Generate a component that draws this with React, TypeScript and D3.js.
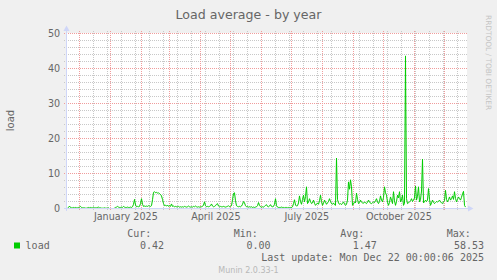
import React from "react";
import * as d3 from "d3";

// ---- data ----
const TITLE = "Load average - by year";
const Y_LABEL = "load";
const SERIES_NAME = "load";
const Y_TICKS = [0, 10, 20, 30, 40, 50];
const Y_MINOR_STEP = 2;
const X_LABEL_MONTHS = ["2025-01-01", "2025-04-01", "2025-07-01", "2025-10-01"];
const LEGEND_HEADERS = ["Cur:", "Min:", "Avg:", "Max:"];
const LEGEND_VALUES = ["0.42", "0.00", "1.47", "58.53"];
const LAST_UPDATE = "Last update: Mon Dec 22 00:00:06 2025";
const FOOTER = "Munin 2.0.33-1";
const WATERMARK = "RRDTOOL / TOBI OETIKER";
const RANGE_START = "2024-11-18T16:00:00Z";
const RANGE_DAYS = 400;
const MINOR_ANCHOR = "2024-12-15T00:00:00Z";

// daily load values (one per day from range start)
const LOAD = [
  0.1, 0.3, 0.7, 0.3, 0.2, 0.2, 0.3, 0.2, 0.3, 0.2, 0.2, 0.3, 0.4, 0.6, 0.3, 0.2, 0.2, 0.2, 0.1, 0.1,
  0.2, 0.3, 0.2, 0.3, 0.2, 0.2, 0.4, 0.2, 0.2, 0.2, 0.3, 0.4, 0.2, 0.2, 0.1, 0.1, 0.1, 0.2, 0.1, 0.1,
  0.1, 0.2, 0.0, 0.0, 0.0, 0.0, 0.0, 0.1, 0.3, 0.4, 0.6, 0.4, 0.3, 0.3, 0.4, 0.3, 0.6, 0.4, 0.3, 0.3,
  0.4, 0.3, 0.3, 0.4, 0.3, 0.5, 1.2, 2.6, 1.0, 0.5, 0.6, 0.5, 0.6, 1.4, 2.8, 1.2, 0.6, 0.7, 0.6, 0.7,
  0.6, 0.8, 0.7, 0.6, 0.8, 2.5, 4.6, 4.8, 4.5, 4.6, 4.4, 4.5, 4.2, 4.0, 3.6, 2.6, 1.4, 0.8, 0.9, 0.7,
  1.0, 0.6, 0.8, 0.6, 1.3, 0.6, 0.7, 0.5, 0.6, 0.5, 0.5, 0.6, 0.4, 0.5, 0.4, 0.5, 0.4, 0.6, 0.5, 0.4,
  0.5, 0.7, 0.5, 0.4, 0.5, 0.4, 0.6, 0.5, 0.7, 0.5, 0.4, 0.5, 0.4, 0.5, 0.5, 0.6, 1.0, 1.9, 0.8, 0.5,
  0.6, 0.5, 0.6, 0.8, 1.3, 0.7, 0.5, 0.6, 0.8, 1.2, 1.4, 0.7, 0.5, 0.6, 0.5, 0.5, 0.6, 0.5, 0.4, 0.5,
  0.6, 0.8, 0.5, 0.6, 0.8, 2.5, 4.3, 4.5, 2.2, 0.8, 0.6, 0.5, 0.6, 0.5, 0.7, 1.2, 2.0, 1.6, 0.8, 0.5,
  0.6, 0.4, 0.5, 0.4, 0.5, 0.3, 0.4, 0.3, 0.4, 0.5, 0.8, 1.7, 0.9, 0.5, 0.4, 0.5, 0.4, 0.6, 0.9, 1.1,
  0.6, 0.5, 0.7, 1.1, 0.6, 0.5, 0.6, 1.2, 2.8, 0.8, 0.4, 0.3, 0.3, 0.3, 0.4, 0.3, 0.3, 0.2, 0.3, 0.3,
  0.2, 0.3, 0.2, 0.3, 0.3, 0.5, 1.4, 2.5, 1.0, 0.7, 0.8, 1.6, 3.6, 2.0, 1.2, 2.6, 3.8, 1.9, 3.4, 6.2,
  1.4, 1.8, 2.8, 2.0, 1.4, 1.6, 2.4, 1.5, 0.9, 1.2, 1.6, 1.2, 2.2, 3.8, 2.0, 0.9, 1.5, 2.4, 1.8, 1.2,
  1.6, 2.0, 2.8, 2.0, 1.4, 1.2, 1.6, 1.1, 0.9, 14.4, 2.5, 1.6, 1.2, 1.4, 1.1, 1.5, 1.9, 1.3, 0.9, 1.2,
  2.4, 7.6, 5.5, 8.2, 6.2, 0.9, 1.3, 1.9, 1.6, 4.4, 2.6, 1.4, 1.7, 2.4, 1.8, 1.6, 1.5, 1.9, 1.6, 1.4,
  1.8, 2.4, 1.9, 1.5, 1.4, 1.6, 1.9, 1.7, 2.2, 2.8, 1.9, 1.4, 2.0, 3.6, 2.4, 1.9, 3.2, 6.2, 4.5, 3.8,
  1.8, 0.9, 1.8, 3.3, 2.4, 1.4, 4.8, 2.2, 0.9, 2.0, 3.8, 3.0, 4.8, 1.9, 2.4, 3.8, 0.9, 1.5, 43.6, 2.8,
  1.4, 1.6, 1.9, 2.2, 2.8, 2.0, 2.4, 3.0, 6.4, 2.4, 3.5, 6.2, 1.9, 2.5, 5.0, 14.1, 1.6, 1.9, 2.4, 2.0,
  2.4, 5.7, 2.6, 0.9, 1.6, 2.4, 1.8, 1.4, 1.7, 2.0, 1.8, 2.1, 2.4, 1.9, 1.6, 1.4, 1.9, 2.2, 5.2, 2.6,
  1.9, 2.5, 3.3, 2.4, 2.8, 3.6, 2.6, 4.8, 2.9, 1.9, 2.6, 3.3, 2.8, 2.4, 3.2, 4.2, 4.9, 0.9, 0.4,
];

// ---- layout ----
const W = 497;
const H = 280;
const PL = 67;
const PR = 467;
const PT = 33;
const PB = 208.5;
const AXIS = "#CFD6F8";
const FONT = "#666666";
const SANS = "'DejaVu Sans', sans-serif";
const MONO = "'DejaVu Sans Mono', monospace";

export default function App() {
  const DAY = 86400000;
  const start = new Date(RANGE_START).getTime();
  const end = start + RANGE_DAYS * DAY;
  const x = d3.scaleUtc().domain([start, end]).range([PL, PR]);
  const y = d3.scaleLinear().domain([0, 50]).range([208.5, 33.5]);

  const pts = LOAD.map((v, i) => [start + (i + 0.5) * DAY, v] as [number, number]);
  const line = d3
    .line<[number, number]>()
    .x((d) => x(d[0]))
    .y((d) => y(d[1]))(pts) as string;

  const crisp = (v: number) => Math.floor(v + 1e-6) + 0.5;
  const yc = (v: number) => Math.round(y(v) - 0.5) + 0.5;

  const majorX = d3.utcMonth.range(new Date(start), new Date(end)).map((d) => crisp(x(d)));
  const anchor = new Date(MINOR_ANCHOR).getTime();
  const minorX: number[] = [];
  for (let t = anchor - Math.floor((anchor - start) / (14 * DAY)) * 14 * DAY; t < end; t += 14 * DAY) {
    if (t > start) minorX.push(crisp(x(t)));
  }
  const yMinor = d3.range(0, 26).map((k) => k * Y_MINOR_STEP).filter((v) => v % 10 !== 0);

  const fmt = d3.utcFormat("%B %Y");
  const valueEnds = [164, 270.6, 376.8, 484];
  const headerStarts = [127.2, 233.8, 340.2, 446.8];

  return (
    <svg
      width={W}
      height={H}
      style={{ position: "absolute", left: 0, top: 0, display: "block" }}
      xmlns="http://www.w3.org/2000/svg"
    >
      <rect x={0} y={0} width={W} height={H} fill="#F0F0F0" />
      <rect x={PL} y={PT} width={PR - PL} height={PB - PT} fill="#FFFFFF" />

      {/* minor grid */}
      <g stroke="#c8c8c8" strokeWidth={1} strokeDasharray="1,1" fill="none" shapeRendering="crispEdges">
        {yMinor.map((v) => (
          <line key={"hm" + v} x1={64} x2={PR} y1={yc(v)} y2={yc(v)} />
        ))}
        {minorX.map((px, i) => (
          <line key={"vm" + i} x1={px} x2={px} y1={31} y2={211} />
        ))}
      </g>
      {/* major grid */}
      <g stroke="#f09c9c" strokeWidth={1} strokeDasharray="1,1" fill="none" shapeRendering="crispEdges">
        {Y_TICKS.filter((v) => v > 0).map((v) => (
          <line key={"hM" + v} x1={64} x2={PR} y1={yc(v)} y2={yc(v)} />
        ))}
        {majorX.map((px, i) => (
          <line key={"vM" + i} x1={px} x2={px} y1={31} y2={211} />
        ))}
      </g>

      {/* data */}
      <path d={line} fill="none" stroke="#00CC00" strokeWidth={1} />

      {/* axes */}
      <line x1={64} x2={469} y1={208.5} y2={208.5} stroke={AXIS} strokeWidth={1} />
      <line x1={66.5} x2={66.5} y1={211} y2={30} stroke={AXIS} strokeWidth={1} />
      <path d="M468,205.5 L473.5,208.5 L468,211.5 Z" fill={AXIS} />
      <path d="M63.5,31 L66.5,25.5 L69.5,31 Z" fill={AXIS} />

      {/* title */}
      <text x={248.5} y={18.5} textAnchor="middle" fontFamily={SANS} fontSize={12.6} fill={FONT}>
        {TITLE}
      </text>

      {/* y labels */}
      {Y_TICKS.map((v) => (
        <text key={"yl" + v} x={60.2} y={y(v) + 3.4} textAnchor="end" fontFamily={SANS} fontSize={9.6} fill={FONT}>
          {v}
        </text>
      ))}
      <text
        transform={`translate(14,120.5) rotate(-90)`}
        textAnchor="middle"
        fontFamily={SANS}
        fontSize={10}
        fill={FONT}
      >
        {Y_LABEL}
      </text>

      {/* x labels */}
      {X_LABEL_MONTHS.map((m) => {
        const t = new Date(m + "T00:00:00Z").getTime();
        return (
          <text key={m} x={x(t + 15.5 * DAY)} y={220} textAnchor="middle" fontFamily={SANS} fontSize={9.6} fill={FONT}>
            {fmt(new Date(t))}
          </text>
        );
      })}

      {/* watermark */}
      <text transform="translate(486,15) rotate(90)" fontFamily={SANS} fontSize={7.4} fill="#c4c4c4">
        {WATERMARK}
      </text>

      {/* legend */}
      {LEGEND_HEADERS.map((h, i) => (
        <text key={h} x={headerStarts[i]} y={236.7} fontFamily={MONO} fontSize={10} fill={FONT}>
          {h}
        </text>
      ))}
      <rect x={14} y={242.5} width={6} height={6} fill="#00CC00" />
      <text x={25.6} y={249} fontFamily={MONO} fontSize={10} fill={FONT}>
        {SERIES_NAME}
      </text>
      {LEGEND_VALUES.map((v, i) => (
        <text key={"lv" + i} x={valueEnds[i]} y={249} textAnchor="end" fontFamily={MONO} fontSize={10} fill={FONT}>
          {v}
        </text>
      ))}
      <text x={484} y={261} textAnchor="end" fontFamily={MONO} fontSize={10} fill={FONT}>
        {LAST_UPDATE}
      </text>
      <text x={248.5} y={272.5} textAnchor="middle" fontFamily={SANS} fontSize={8} fill="#b8b8b8">
        {FOOTER}
      </text>
    </svg>
  );
}
